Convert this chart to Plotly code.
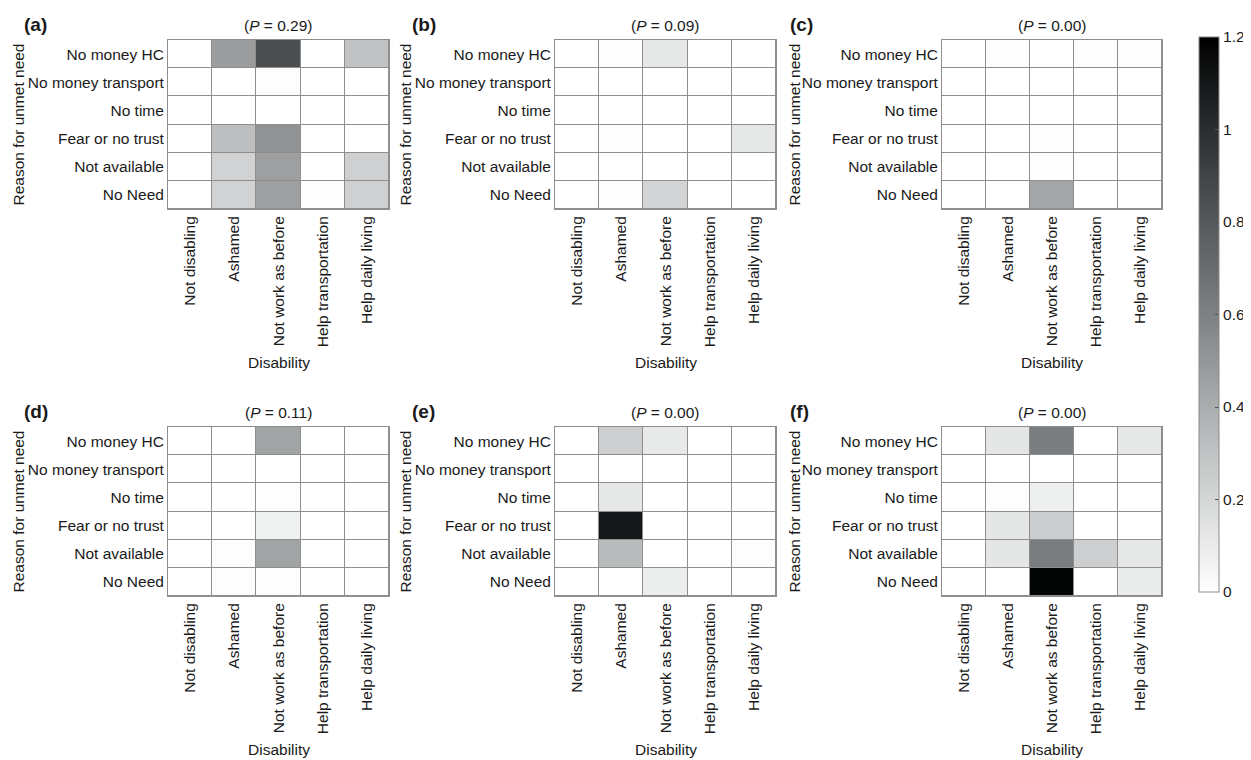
import plotly.graph_objects as go

# The page body has an 8px default margin, so the figure is drawn 8px in from the window edge.
OFF = 8
W, H = 1251 - OFF, 760 - OFF

disability = ["Not disabling", "Ashamed", "Not work as before", "Help transportation", "Help daily living"]
reasons = ["No money HC", "No money transport", "No time", "Fear or no trust", "Not available", "No Need"]

panel_letters = ["(a)", "(b)", "(c)", "(d)", "(e)", "(f)"]
p_values = ["0.29", "0.09", "0.00", "0.11", "0.00", "0.00"]

vals_a = [
    [0, 0.47, 0.85, 0, 0.30],
    [0, 0, 0.01, 0, 0],
    [0, 0, 0, 0, 0],
    [0, 0.32, 0.52, 0, 0],
    [0, 0.22, 0.46, 0, 0.23],
    [0, 0.22, 0.46, 0.01, 0.23],
]
vals_b = [
    [0, 0.01, 0.12, 0, 0],
    [0, 0, 0, 0, 0],
    [0, 0, 0, 0, 0],
    [0, 0.01, 0, 0, 0.12],
    [0, 0, 0, 0, 0],
    [0, 0.01, 0.21, 0, 0],
]
vals_c = [
    [0, 0.01, 0, 0.01, 0.01],
    [0, 0, 0, 0, 0],
    [0, 0, 0, 0, 0],
    [0, 0, 0.01, 0, 0],
    [0, 0, 0.01, 0, 0],
    [0, 0, 0.43, 0, 0],
]
vals_d = [
    [0, 0, 0.44, 0, 0],
    [0, 0, 0, 0, 0],
    [0, 0, 0.01, 0, 0],
    [0, 0, 0.07, 0, 0],
    [0, 0.01, 0.44, 0, 0],
    [0, 0.01, 0.01, 0, 0],
]
vals_e = [
    [0, 0.24, 0.11, 0, 0],
    [0, 0, 0, 0, 0],
    [0, 0.12, 0, 0, 0],
    [0, 1.10, 0, 0, 0],
    [0, 0.33, 0, 0, 0.01],
    [0, 0, 0.09, 0, 0],
]
vals_f = [
    [0, 0.13, 0.62, 0, 0.12],
    [0, 0, 0, 0, 0],
    [0, 0.01, 0.08, 0, 0],
    [0, 0.13, 0.25, 0, 0],
    [0, 0.13, 0.62, 0.24, 0.12],
    [0, 0, 1.18, 0, 0.10],
]
panel_values = [vals_a, vals_b, vals_c, vals_d, vals_e, vals_f]

colorbar_ticks = [0, 0.2, 0.4, 0.6, 0.8, 1, 1.2]
colorbar_ticktext = ["0", "0.2", "0.4", "0.6", "0.8", "1", "1.2"]

# layout (window pixels)
col_x = [(168, 389), (555, 776), (942, 1162)]
row_y = [(40, 209), (427, 596)]
ylabel_x = [18, 405, 794]
letter_x = [22, 410, 788]
cbar_top, cbar_bottom = 37, 592

FONT = "Liberation Sans, Arial, Helvetica, sans-serif"
FS = 15.5
GRID = "#8e8e8e"

def px_x(x):
    return (x - OFF) / W

def px_y(y):
    return 1 - (y - OFF) / H

fig = go.Figure()
annotations = []
for i, z in enumerate(panel_values):
    r, c = divmod(i, 3)
    x0, x1 = col_x[c]
    y0, y1 = row_y[r]
    n = i + 1
    xa = "x" if n == 1 else f"x{n}"
    ya = "y" if n == 1 else f"y{n}"
    fig.add_trace(go.Heatmap(
        z=z, x=disability, y=reasons, coloraxis="coloraxis",
        xgap=1, ygap=1, xaxis=xa, yaxis=ya,
        hovertemplate="%{x}<br>%{y}<br>%{z}<extra></extra>",
    ))
    axis_common = dict(showline=True, mirror=True, linecolor=GRID, linewidth=1,
                       showgrid=False, zeroline=False, ticks="",
                       tickfont=dict(family=FONT, size=FS, color="#1a1a1a"),
                       fixedrange=True, automargin=False)
    fig.update_layout(**{
        ("xaxis" if n == 1 else f"xaxis{n}"): dict(
            domain=[px_x(x0), px_x(x1)], anchor=ya, tickangle=-90,
            categoryorder="array", categoryarray=disability, **axis_common),
        ("yaxis" if n == 1 else f"yaxis{n}"): dict(
            domain=[px_y(y1), px_y(y0)], anchor=xa, autorange="reversed",
            categoryorder="array", categoryarray=reasons, **axis_common),
    })
    cx = (x0 + x1) / 2
    annotations.append(dict(text=f"(<i>P</i> = {p_values[i]})", x=px_x(cx), y=px_y(y0 - 15),
                            xref="paper", yref="paper", xanchor="center", yanchor="middle",
                            showarrow=False, font=dict(family=FONT, size=FS, color="#1a1a1a")))
    annotations.append(dict(text=f"<b>{panel_letters[i]}</b>", x=px_x(letter_x[c]),
                            y=px_y(y0 - 16), xref="paper", yref="paper",
                            xanchor="left", yanchor="middle", showarrow=False,
                            font=dict(family=FONT, size=19, color="#1a1a1a")))
    annotations.append(dict(text="Reason for unmet need", x=px_x(ylabel_x[c]),
                            y=px_y((y0 + y1) / 2), xref="paper", yref="paper",
                            xanchor="center", yanchor="middle", textangle=-90, showarrow=False,
                            font=dict(family=FONT, size=FS, color="#1a1a1a")))
    annotations.append(dict(text="Disability", x=px_x(cx), y=px_y(y1 + 153),
                            xref="paper", yref="paper", xanchor="center", yanchor="middle",
                            showarrow=False, font=dict(family=FONT, size=FS, color="#1a1a1a")))

fig.update_layout(
    width=W, height=H, autosize=False,
    margin=dict(l=0, r=0, t=0, b=0, pad=0, autoexpand=False),
    paper_bgcolor="white", plot_bgcolor=GRID,
    font=dict(family=FONT, size=FS, color="#1a1a1a"),
    showlegend=False,
    annotations=annotations,
    coloraxis=dict(
        cmin=0, cmax=1.2,
        colorscale=[[0, "rgb(255,255,255)"],
                    [0.25, "rgb(192,194,195)"], [0.5, "rgb(126,129,131)"],
                    [0.75, "rgb(64,68,71)"], [1, "rgb(0,0,0)"]],
        colorbar=dict(
            x=px_x(1199), xanchor="left", y=px_y((cbar_top + cbar_bottom) / 2), yanchor="middle",
            len=cbar_bottom - cbar_top, lenmode="pixels", thickness=20, thicknessmode="pixels",
            xpad=0, ypad=0, outlinewidth=1, outlinecolor="#8a8a8a",
            tickvals=colorbar_ticks, ticktext=colorbar_ticktext,
            ticks="inside", ticklen=4, tickcolor="#555555",
            tickfont=dict(family=FONT, size=FS, color="#1a1a1a"),
        ),
    ),
)

fig.write_html("out.html")
